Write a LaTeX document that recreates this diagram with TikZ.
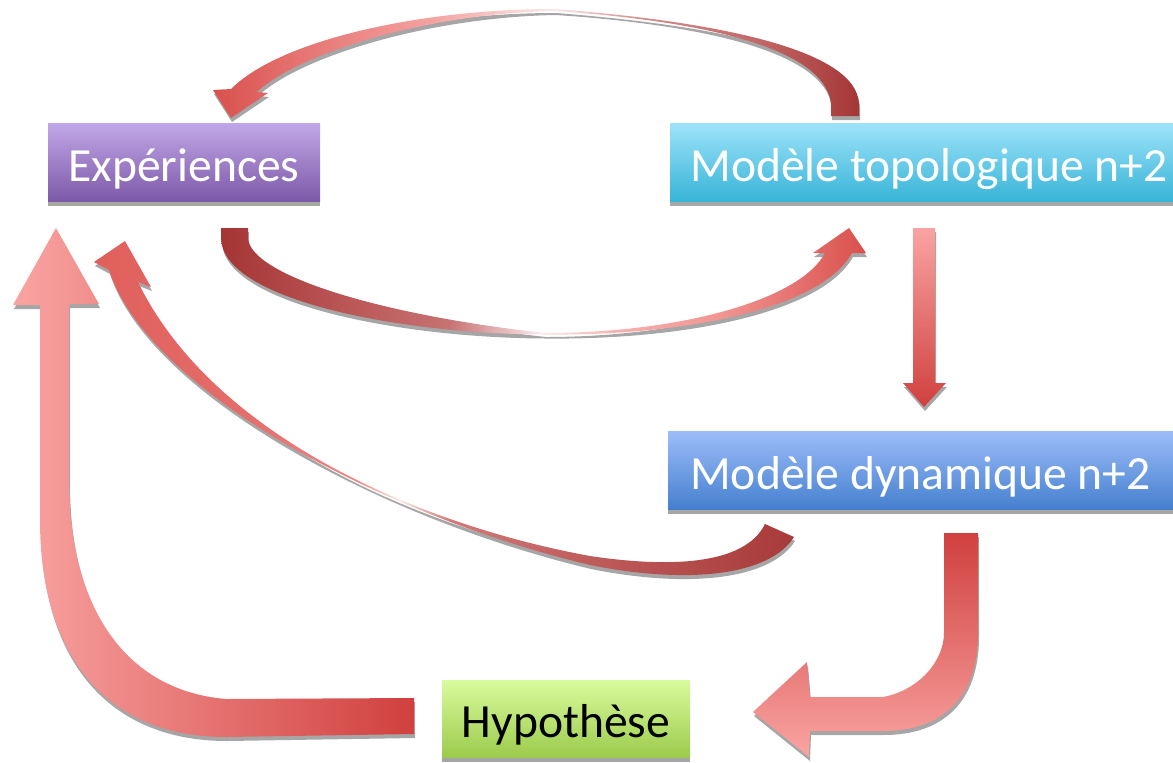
\documentclass[tikz,border=0pt]{standalone}
\usepackage{fontspec}
\setmainfont{Carlito}
\usepackage{tikz}
\usetikzlibrary{shadows}

\definecolor{expTop}{HTML}{C1A7E7}
\definecolor{expBot}{HTML}{7D59A8}
\definecolor{topoTop}{HTML}{9EE3F9}
\definecolor{topoBot}{HTML}{38B4D8}
\definecolor{dynTop}{HTML}{9DBDF9}
\definecolor{dynBot}{HTML}{4580CF}
\definecolor{hypTop}{HTML}{D9FB9D}
\definecolor{hypBot}{HTML}{9CCB4C}
\definecolor{shadowgray}{HTML}{A6A6A6}
\definecolor{arrRed}{HTML}{D0403E}
\definecolor{arrPink}{HTML}{F9A4A2}
\definecolor{redA}{HTML}{D9504D}
\definecolor{redB}{HTML}{E57472}
\definecolor{redC}{HTML}{E05F5B}
\definecolor{redD}{HTML}{E46E6B}
\definecolor{pinkA}{HTML}{F4A2A0}
\definecolor{pinkB}{HTML}{F5B0AE}
\definecolor{pinkC}{HTML}{F19592}
\definecolor{pinkD}{HTML}{EC8886}
\definecolor{paleA}{HTML}{FBE9E9}
\definecolor{duskA}{HTML}{D88B8B}
\definecolor{duskB}{HTML}{C26767}
\definecolor{duskC}{HTML}{B85252}
\definecolor{duskD}{HTML}{C77272}
\definecolor{duskE}{HTML}{D27878}
\definecolor{duskF}{HTML}{BD5A5A}
\definecolor{darkA}{HTML}{A53535}
\definecolor{darkB}{HTML}{A83A3A}

% colour runs along the curved arrows (25bp..75bp = path width)
\pgfdeclarehorizontalshading{overarrow}{100bp}{color(0bp)=(redA); color(25bp)=(redA);
  color(31.7bp)=(redB); color(41.8bp)=(pinkA); color(51.5bp)=(paleA);
  color(58bp)=(duskA); color(67.3bp)=(duskB); color(75bp)=(darkA); color(100bp)=(darkA)}
\pgfdeclarehorizontalshading{underarrow}{100bp}{color(0bp)=(darkA); color(25bp)=(darkA);
  color(33.4bp)=(duskC); color(42.7bp)=(duskD); color(49.7bp)=(paleA);
  color(55.9bp)=(pinkB); color(63.7bp)=(pinkC); color(75bp)=(redA); color(100bp)=(redA)}
\pgfdeclarehorizontalshading{longarrow}{100bp}{color(0bp)=(redC); color(25bp)=(redC);
  color(36bp)=(redD); color(43.9bp)=(pinkD); color(46.8bp)=(paleA);
  color(50.4bp)=(duskE); color(61.1bp)=(duskF); color(75bp)=(darkB); color(100bp)=(darkB)}

\begin{document}
\begin{tikzpicture}[
  x=0.5pt, y=-0.5pt,
  font=\fontsize{23.8}{28}\selectfont,
  box/.style={minimum height=39pt, inner sep=0pt, text height=19pt, text depth=0pt,
    drop shadow={shadow xshift=0pt, shadow yshift=-2.5pt, fill=shadowgray, opacity=1}},
  blockarrow/.style={drop shadow={shadow xshift=0.5pt, shadow yshift=-2pt, fill=shadowgray, opacity=1}}
]
\useasboundingbox (0,0) rectangle (1173,762);

\node[box, minimum width=136pt, top color=expTop, bottom color=expBot, text=white] (exp) at (184,162) {Expériences};
\node[box, minimum width=259pt, top color=topoTop, bottom color=topoBot, text=white] (topo) at (929,162) {Modèle topologique n+2};
\node[box, minimum width=252.5pt, top color=dynTop, bottom color=dynBot, text=white] (dyn) at (920.5,470) {Modèle dynamique n+2};
\node[box, minimum width=124pt, minimum height=38.5pt, top color=hypTop, bottom color=hypBot] (hyp) at (566,718.5) {Hypothèse};

% topo -> exp, over the top
\path[blockarrow, shading=overarrow]
  (859,116) -- (859,104) .. controls (857,50) and (720,22) .. (555,9)
  .. controls (420,9) and (280,40) .. (231,89)
  -- (213,90) -- (231,118) -- (268,93) -- (257,92)
  .. controls (300,52) and (430,13) .. (555,11)
  .. controls (690,20) and (825,45) .. (831,104) -- (831,116) -- cycle;

% exp -> topo, underneath
\path[blockarrow, shading=underarrow]
  (221,228) -- (248,228) -- (248,238) .. controls (250,275) and (380,315) .. (545,333)
  .. controls (680,333) and (800,300) .. (825,253)
  -- (813,253) -- (849,228) -- (866,253) -- (852,253)
  .. controls (820,310) and (680,336) .. (545,334.5)
  .. controls (400,334) and (222,300) .. (221,238) -- cycle;

% dyn -> exp
\path[blockarrow, shading=longarrow]
  (765,524) .. controls (745,565) and (670,568) .. (590,556)
  .. controls (420,525) and (213,436) .. (138,282)
  -- (151,287) -- (125,241) -- (94,262) -- (109,270)
  .. controls (148,390) and (380,515) .. (590,565)
  .. controls (690,585) and (770,575) .. (794,537) -- cycle;

% topo -> dyn
\path[blockarrow, top color=arrPink, bottom color=arrRed]
  (913,228) -- (935,228) -- (935,383) -- (946,383) -- (924,407)
  -- (903,383) -- (913,383) -- cycle;

% dyn -> hyp
\path[blockarrow, top color=arrRed, bottom color=arrPink]
  (944,533) -- (978,533) -- (978,633) .. controls (978,700) and (940,731) .. (883,731)
  -- (810,731) -- (809,757) -- (753,712) -- (807,662) -- (810,697) -- (883,697)
  .. controls (920,690) and (944,660) .. (944,633) -- cycle;

% hyp -> exp
\path[blockarrow, left color=arrPink, right color=arrRed]
  (414,698) -- (226,699) .. controls (120,690) and (69,600) .. (69,480)
  -- (69,304) -- (99,304) -- (56,228) -- (13,305) -- (40,305) -- (40,520)
  .. controls (40,660) and (110,737) .. (226,737) -- (414,734) -- cycle;
\end{tikzpicture}
\end{document}
